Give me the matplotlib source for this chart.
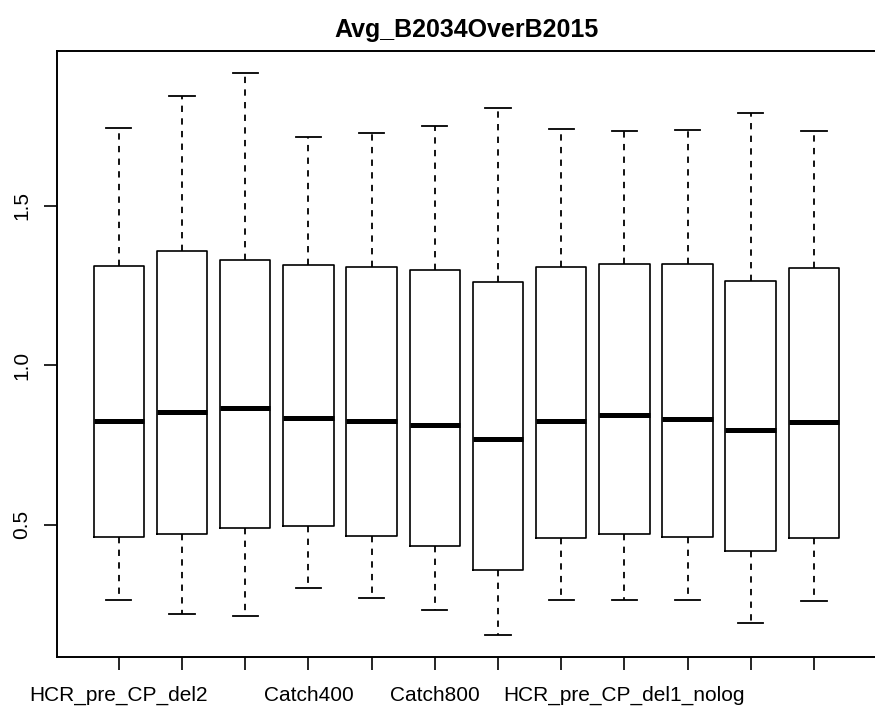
import matplotlib
matplotlib.use("Agg")
import matplotlib.pyplot as plt

plt.rcParams['font.family'] = ['Liberation Sans', 'DejaVu Sans']

# tick labels as R drew them (overlapping ones were dropped)
tick_labels = ["HCR_pre_CP_del2", "", "", "Catch400", "", "Catch800",
               "", "", "HCR_pre_CP_del1_nolog", "", "", ""]

# boxplot statistics
whis_lo = [0.265, 0.220, 0.215, 0.302, 0.269, 0.234, 0.155, 0.263, 0.264, 0.264, 0.193, 0.260]
q1 = [0.461, 0.471, 0.489, 0.497, 0.466, 0.432, 0.357, 0.459, 0.472, 0.463, 0.419, 0.459]
med = [0.826, 0.853, 0.866, 0.836, 0.825, 0.813, 0.769, 0.825, 0.844, 0.832, 0.796, 0.823]
q3 = [1.312, 1.357, 1.329, 1.314, 1.308, 1.299, 1.261, 1.308, 1.317, 1.317, 1.265, 1.305]
whis_hi = [1.745, 1.843, 1.916, 1.714, 1.729, 1.751, 1.807, 1.740, 1.735, 1.738, 1.790, 1.734]

stats = []
for i in range(len(med)):
    stats.append({'whislo': whis_lo[i], 'q1': q1[i], 'med': med[i],
                  'q3': q3[i], 'whishi': whis_hi[i], 'fliers': []})

fig = plt.figure(figsize=(8.75, 7.1), dpi=100)
ax = fig.add_axes([56.9 / 875, (710 - 657.3) / 710, 819.0 / 875, 606.8 / 710])

n = len(stats)
pos = list(range(1, n + 1))
ax.bxp(stats, positions=pos, widths=0.8, capwidths=0.4, showfliers=False,
       boxprops=dict(color='black', linewidth=1.2),
       medianprops=dict(color='black', linewidth=3.6, solid_capstyle='butt'),
       whiskerprops=dict(color='black', linewidth=1.3, linestyle=(0, (3.5, 3.5))),
       capprops=dict(color='black', linewidth=1.3))

# R style: 4% padding on both axes
lo, hi = min(whis_lo), max(whis_hi)
pad = 0.04 * (hi - lo)
ax.set_ylim(lo - pad, hi + pad)
ax.set_xlim(0.5 - 0.04 * n, n + 0.5 + 0.04 * n)

ax.set_xticks(pos)
ax.set_xticklabels(tick_labels)
ax.set_yticks([0.5, 1.0, 1.5])
ax.set_yticklabels(["0.5", "1.0", "1.5"])
ax.tick_params(axis='both', direction='out', length=9.5, width=1.2, labelsize=15)
ax.tick_params(axis='x', pad=11)
ax.tick_params(axis='y', pad=9)
plt.setp(ax.get_yticklabels(), rotation=90, va='center')

for s in ax.spines.values():
    s.set_linewidth(1.4)

ax.set_title("Avg_B2034OverB2015", fontsize=18, fontweight='bold', pad=10)

plt.savefig('out.png', dpi=100)
